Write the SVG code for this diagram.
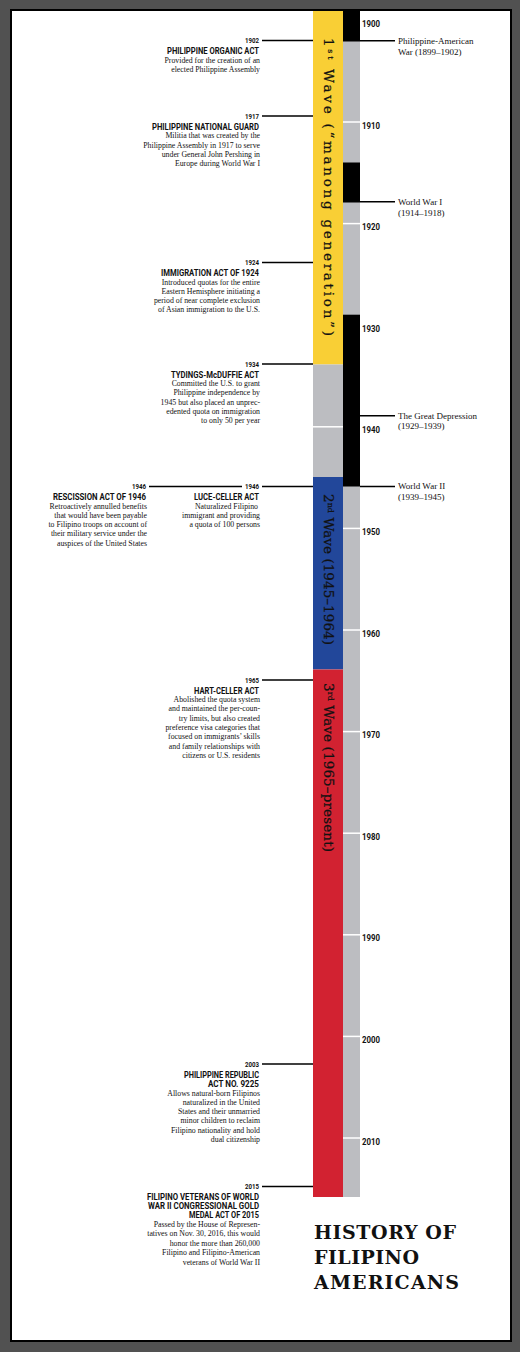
<svg xmlns="http://www.w3.org/2000/svg" width="520" height="1352" viewBox="0 0 520 1352">
<style>
.yr{font-family:Roboto,"Liberation Sans",sans-serif;font-weight:bold;font-size:9px;fill:#111}
.ey{font-family:Roboto,"Liberation Sans",sans-serif;font-weight:bold;font-size:6.5px;fill:#111;text-anchor:end}
.et{font-family:Roboto,"Liberation Sans",sans-serif;font-weight:bold;font-size:9.5px;fill:#111;text-anchor:end}
.ed{font-family:"Liberation Serif",serif;font-size:7.8px;fill:#111;text-anchor:end}
.rt{font-family:"Liberation Serif",serif;font-size:9px;fill:#111}
.wv{font-family:"DejaVu Serif",serif;font-size:13.5px;fill:#111;stroke:#111;stroke-width:0.25}
.sup{font-size:8px}
.ttl{font-family:"DejaVu Serif",serif;font-weight:bold;font-size:19px;fill:#111}
.ln{stroke:#000;stroke-width:1.5;fill:none}
.tk{stroke:#fff;stroke-width:1.5}
</style>
<rect x="0" y="0" width="520" height="1352" fill="#515151"/>
<rect x="11" y="10" width="500" height="1331" fill="#fff" stroke="#000" stroke-width="2"/>

<g id="timeline">
  <rect x="313" y="11" width="30" height="353.5" fill="#F9CF35"/>
  <rect x="313" y="364.5" width="30" height="112.5" fill="#BCBDC1"/>
  <rect x="313" y="477" width="30" height="192.5" fill="#22479A"/>
  <rect x="313" y="669.5" width="30" height="527.5" fill="#D22231"/>
  <rect x="343" y="11" width="17" height="1186" fill="#BCBDC1"/>
  <rect x="343" y="11" width="17" height="29.7" fill="#000"/>
  <rect x="343" y="162.5" width="17" height="40" fill="#000"/>
  <rect x="343" y="314.7" width="17" height="171.8" fill="#000"/>
  <g class="tk">
    <line x1="343" y1="122" x2="360" y2="122"/>
    <line x1="343" y1="223.6" x2="360" y2="223.6"/>
    <line x1="313" y1="426.8" x2="343" y2="426.8"/>
    <line x1="343" y1="528.4" x2="360" y2="528.4"/>
    <line x1="343" y1="630" x2="360" y2="630"/>
    <line x1="343" y1="731.6" x2="360" y2="731.6"/>
    <line x1="343" y1="833.2" x2="360" y2="833.2"/>
    <line x1="343" y1="934.8" x2="360" y2="934.8"/>
    <line x1="343" y1="1036.4" x2="360" y2="1036.4"/>
    <line x1="343" y1="1138" x2="360" y2="1138"/>
  </g>
  <g id="years" class="yr">
    <text x="362" y="27" textLength="18" lengthAdjust="spacingAndGlyphs">1900</text>
    <text x="362" y="128.5" textLength="18" lengthAdjust="spacingAndGlyphs">1910</text>
    <text x="362" y="230.1" textLength="18" lengthAdjust="spacingAndGlyphs">1920</text>
    <text x="362" y="331.7" textLength="18" lengthAdjust="spacingAndGlyphs">1930</text>
    <text x="362" y="433.3" textLength="18" lengthAdjust="spacingAndGlyphs">1940</text>
    <text x="362" y="534.9" textLength="18" lengthAdjust="spacingAndGlyphs">1950</text>
    <text x="362" y="636.5" textLength="18" lengthAdjust="spacingAndGlyphs">1960</text>
    <text x="362" y="738.1" textLength="18" lengthAdjust="spacingAndGlyphs">1970</text>
    <text x="362" y="839.7" textLength="18" lengthAdjust="spacingAndGlyphs">1980</text>
    <text x="362" y="941.3" textLength="18" lengthAdjust="spacingAndGlyphs">1990</text>
    <text x="362" y="1042.9" textLength="18" lengthAdjust="spacingAndGlyphs">2000</text>
    <text x="362" y="1144.5" textLength="18" lengthAdjust="spacingAndGlyphs">2010</text>
  </g>
  <g id="waves" class="wv">
    <text transform="translate(323.5,38) rotate(90)" textLength="298" lengthAdjust="spacing">1<tspan class="sup" dy="-4">st</tspan><tspan dy="4"> Wave (“manong generation”)</tspan></text>
    <text transform="translate(323.5,494) rotate(90)" textLength="151" lengthAdjust="spacing">2<tspan class="sup" dy="-4">nd</tspan><tspan dy="4"> Wave (1945–1964)</tspan></text>
    <text transform="translate(323.5,683) rotate(90)" textLength="169" lengthAdjust="spacing">3<tspan class="sup" dy="-4">rd</tspan><tspan dy="4"> Wave (1965–present)</tspan></text>
  </g>
</g>

<g id="connectors" class="ln">
  <line x1="262" y1="40.5" x2="313" y2="40.5"/>
  <line x1="262" y1="116" x2="313" y2="116"/>
  <line x1="262" y1="262.5" x2="313" y2="262.5"/>
  <line x1="262" y1="364" x2="313" y2="364"/>
  <line x1="149" y1="486.5" x2="242" y2="486.5"/>
  <line x1="262" y1="486.5" x2="313" y2="486.5"/>
  <line x1="262" y1="680" x2="313" y2="680"/>
  <line x1="262" y1="1064" x2="313" y2="1064"/>
  <line x1="262" y1="1186.5" x2="313" y2="1186.5"/>
  <line x1="343" y1="40.7" x2="395" y2="40.7"/>
  <line x1="360" y1="201.7" x2="395" y2="201.7"/>
  <line x1="360" y1="415.7" x2="395" y2="415.7"/>
  <line x1="360" y1="486.5" x2="395" y2="486.5"/>
</g>

<g id="war-phil-am" class="rt"><text x="398" y="44">Philippine-American</text><text x="398" y="54.5">War (1899–1902)</text></g>
<g id="war-ww1" class="rt"><text x="398" y="205">World War I</text><text x="398" y="215.5">(1914–1918)</text></g>
<g id="great-depression" class="rt"><text x="398" y="418.7">The Great Depression</text><text x="398" y="429.2">(1929–1939)</text></g>
<g id="war-ww2" class="rt"><text x="398" y="489">World War II</text><text x="398" y="499.5">(1939–1945)</text></g>

<g id="ev1902">
  <text class="ey" x="259" y="43.3" textLength="14" lengthAdjust="spacingAndGlyphs">1902</text>
  <text class="et" x="259" y="54" textLength="92" lengthAdjust="spacingAndGlyphs">PHILIPPINE ORGANIC ACT</text>
  <text class="ed" x="260" y="62.5">Provided for the creation of an</text>
  <text class="ed" x="260" y="71.8">elected Philippine Assembly</text>
</g>
<g id="ev1917">
  <text class="ey" x="259" y="118.8" textLength="14" lengthAdjust="spacingAndGlyphs">1917</text>
  <text class="et" x="259" y="129.5" textLength="107" lengthAdjust="spacingAndGlyphs">PHILIPPINE NATIONAL GUARD</text>
  <text class="ed" x="260" y="138.3">Militia that was created by the</text>
  <text class="ed" x="260" y="147.6">Philippine Assembly in 1917 to serve</text>
  <text class="ed" x="260" y="156.9">under General John Pershing in</text>
  <text class="ed" x="260" y="166.2">Europe during World War I</text>
</g>
<g id="ev1924">
  <text class="ey" x="259" y="265.3" textLength="14" lengthAdjust="spacingAndGlyphs">1924</text>
  <text class="et" x="259" y="276" textLength="98" lengthAdjust="spacingAndGlyphs">IMMIGRATION ACT OF 1924</text>
  <text class="ed" x="260" y="284.5">Introduced quotas for the entire</text>
  <text class="ed" x="260" y="293.8">Eastern Hemisphere initiating a</text>
  <text class="ed" x="260" y="303.1">period of near complete exclusion</text>
  <text class="ed" x="260" y="312.4">of Asian immigration to the U.S.</text>
</g>
<g id="ev1934">
  <text class="ey" x="259" y="366.8" textLength="14" lengthAdjust="spacingAndGlyphs">1934</text>
  <text class="et" x="259" y="377.5" textLength="88" lengthAdjust="spacingAndGlyphs">TYDINGS-McDUFFIE ACT</text>
  <text class="ed" x="260" y="386">Committed the U.S. to grant</text>
  <text class="ed" x="260" y="395.3">Philippine independence by</text>
  <text class="ed" x="260" y="404.6">1945 but also placed an unprec-</text>
  <text class="ed" x="260" y="413.9">edented quota on immigration</text>
  <text class="ed" x="260" y="423.2">to only 50 per year</text>
</g>
<g id="ev1946a">
  <text class="ey" x="146" y="489.3" textLength="14" lengthAdjust="spacingAndGlyphs">1946</text>
  <text class="et" x="146" y="500" textLength="93" lengthAdjust="spacingAndGlyphs">RESCISSION ACT OF 1946</text>
  <text class="ed" x="147" y="508.5">Retroactively annulled benefits</text>
  <text class="ed" x="147" y="517.8">that would have been payable</text>
  <text class="ed" x="147" y="527.1">to Filipino troops on account of</text>
  <text class="ed" x="147" y="536.4">their military service under the</text>
  <text class="ed" x="147" y="545.7">auspices of the United States</text>
</g>
<g id="ev1946b">
  <text class="ey" x="259" y="489.3" textLength="14" lengthAdjust="spacingAndGlyphs">1946</text>
  <text class="et" x="259" y="500" textLength="65" lengthAdjust="spacingAndGlyphs">LUCE-CELLER ACT</text>
  <text class="ed" x="258" y="508.5">Naturalized Filipino</text>
  <text class="ed" x="260" y="517.8">immigrant and providing</text>
  <text class="ed" x="260" y="527.1">a quota of 100 persons</text>
</g>
<g id="ev1965">
  <text class="ey" x="259" y="682.8" textLength="14" lengthAdjust="spacingAndGlyphs">1965</text>
  <text class="et" x="259" y="693.5" textLength="65" lengthAdjust="spacingAndGlyphs">HART-CELLER ACT</text>
  <text class="ed" x="260" y="702">Abolished the quota system</text>
  <text class="ed" x="260" y="711.3">and maintained the per-coun-</text>
  <text class="ed" x="260" y="720.6">try limits, but also created</text>
  <text class="ed" x="260" y="729.9">preference visa categories that</text>
  <text class="ed" x="260" y="739.2">focused on immigrants’ skills</text>
  <text class="ed" x="260" y="748.5">and family relationships with</text>
  <text class="ed" x="260" y="757.8">citizens or U.S. residents</text>
</g>
<g id="ev2003">
  <text class="ey" x="259" y="1066.8" textLength="14" lengthAdjust="spacingAndGlyphs">2003</text>
  <text class="et" x="259" y="1077.5" textLength="75" lengthAdjust="spacingAndGlyphs">PHILIPPINE REPUBLIC</text>
  <text class="et" x="259" y="1086.7" textLength="51" lengthAdjust="spacingAndGlyphs">ACT NO. 9225</text>
  <text class="ed" x="260" y="1095.5">Allows natural-born Filipinos</text>
  <text class="ed" x="260" y="1104.8">naturalized in the United</text>
  <text class="ed" x="260" y="1114.1">States and their unmarried</text>
  <text class="ed" x="260" y="1123.4">minor children to reclaim</text>
  <text class="ed" x="260" y="1132.7">Filipino nationality and hold</text>
  <text class="ed" x="260" y="1142">dual citizenship</text>
</g>
<g id="ev2015">
  <text class="ey" x="259" y="1189.3" textLength="14" lengthAdjust="spacingAndGlyphs">2015</text>
  <text class="et" x="259" y="1200" textLength="112" lengthAdjust="spacingAndGlyphs">FILIPINO VETERANS OF WORLD</text>
  <text class="et" x="259" y="1209.2" textLength="111" lengthAdjust="spacingAndGlyphs">WAR II CONGRESSIONAL GOLD</text>
  <text class="et" x="259" y="1218.4" textLength="70" lengthAdjust="spacingAndGlyphs">MEDAL ACT OF 2015</text>
  <text class="ed" x="260" y="1227">Passed by the House of Represen-</text>
  <text class="ed" x="260" y="1236.4">tatives on Nov. 30, 2016, this would</text>
  <text class="ed" x="260" y="1245.8">honor the more than 260,000</text>
  <text class="ed" x="260" y="1255.2">Filipino and Filipino-American</text>
  <text class="ed" x="260" y="1264.6">veterans of World War II</text>
</g>

<g id="title" class="ttl">
  <text x="314" y="1239" textLength="142" lengthAdjust="spacing">HISTORY OF</text>
  <text x="314" y="1263.5" textLength="105" lengthAdjust="spacing">FILIPINO</text>
  <text x="314" y="1288.5" textLength="145" lengthAdjust="spacing">AMERICANS</text>
</g>
</svg>
